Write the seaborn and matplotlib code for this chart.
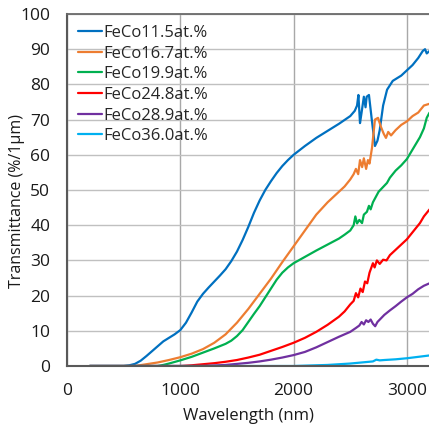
import matplotlib
matplotlib.use("Agg")
import matplotlib.pyplot as plt
import seaborn as sns
import pandas as pd

# ---------------- data ----------------
labels = ["FeCo11.5at.%", "FeCo16.7at.%", "FeCo19.9at.%",
          "FeCo24.8at.%", "FeCo28.9at.%", "FeCo36.0at.%"]
colors = ["#0070C0", "#ED7D31", "#00B050", "#FF0000", "#7030A0", "#00B0F0"]

wl_115 = [200, 500, 550, 600, 650, 700, 750, 800, 850, 900, 950, 1000, 1050, 1100,
          1150, 1200, 1250, 1300, 1350, 1400, 1450, 1500, 1550, 1600, 1650, 1700,
          1750, 1800, 1850, 1900, 1950, 2000, 2100, 2200, 2300, 2400, 2500, 2540,
          2560, 2572, 2586, 2600, 2620, 2635, 2645, 2665, 2690, 2718, 2740, 2760,
          2790, 2825, 2875, 2950, 3000, 3050, 3100, 3140, 3160, 3175, 3200]
t_115 = [0, 0, 0.2, 0.6, 1.5, 2.8, 4.2, 5.6, 7.0, 8.0, 9.0, 10.2, 12.3, 15.2,
         18.3, 20.5, 22.3, 24.0, 25.7, 27.5, 29.8, 32.5, 35.8, 39.5, 43.5, 47.0,
         50.0, 52.5, 54.8, 56.8, 58.5, 60.0, 62.5, 64.8, 66.8, 68.8, 71.0, 72.5,
         74.0, 77.0, 69.0, 72.0, 76.5, 73.5, 76.5, 77.0, 70.0, 62.5, 64.0, 67.0,
         74.0, 78.5, 81.0, 82.5, 84.0, 85.5, 87.5, 89.5, 90.0, 88.8, 89.5]

wl_167 = [200, 600, 700, 800, 900, 1000, 1100, 1200, 1300, 1400, 1500, 1600, 1700,
          1800, 1900, 2000, 2100, 2200, 2300, 2400, 2450, 2500, 2530, 2550, 2570,
          2586, 2605, 2620, 2640, 2656, 2670, 2692, 2718, 2745, 2770, 2795, 2815,
          2835, 2860, 2900, 2950, 3000, 3050, 3100, 3150, 3200]
t_167 = [0, 0, 0.5, 1.0, 1.7, 2.5, 3.5, 4.8, 6.6, 9.0, 12.3, 16.2, 20.5,
         24.8, 29.5, 34.0, 38.5, 43.0, 46.5, 49.5, 51.0, 53.0, 54.5, 56.0, 54.5,
         58.5, 56.5, 59.0, 56.0, 58.5, 57.5, 62.0, 70.0, 70.5, 68.0, 66.0, 64.8,
         66.5, 65.5, 67.0, 68.5, 69.5, 71.0, 72.0, 74.0, 74.5]

wl_199 = [200, 800, 850, 900, 1000, 1100, 1200, 1300, 1400, 1450, 1500, 1550, 1600,
          1650, 1700, 1750, 1800, 1850, 1900, 1950, 2000, 2100, 2200, 2300, 2400,
          2450, 2500, 2530, 2545, 2560, 2580, 2604, 2620, 2647, 2665, 2680, 2700,
          2750, 2824, 2850, 2900, 2950, 3000, 3050, 3115, 3150, 3175, 3200]
t_199 = [0, 0, 0.3, 0.7, 1.6, 2.6, 3.8, 5.0, 6.3, 7.2, 8.5, 10.2, 12.5,
         14.8, 17.0, 19.5, 22.0, 24.5, 26.5, 28.0, 29.2, 31.0, 32.8, 34.5, 36.2,
         37.3, 38.5, 40.0, 42.5, 40.5, 41.5, 40.6, 43.0, 43.8, 45.5, 44.5, 46.5,
         49.5, 52.0, 53.5, 55.5, 57.0, 58.8, 61.5, 65.0, 67.5, 70.5, 72.0]

wl_248 = [200, 1000, 1100, 1200, 1300, 1400, 1500, 1600, 1700, 1800, 1900, 2000,
          2100, 2200, 2300, 2400, 2450, 2500, 2530, 2550, 2570, 2590, 2610, 2630,
          2650, 2670, 2700, 2715, 2735, 2760, 2790, 2820, 2850, 2900, 2950, 3000,
          3050, 3115, 3150, 3200]
t_248 = [0, 0, 0.2, 0.5, 0.8, 1.2, 1.7, 2.4, 3.2, 4.3, 5.4, 6.6,
         8.0, 9.7, 11.7, 14.0, 15.5, 17.5, 18.5, 20.7, 19.5, 22.0, 21.0, 24.0,
         23.5, 26.5, 29.2, 28.0, 30.0, 29.0, 30.2, 30.0, 31.5, 33.0, 34.5, 36.0,
         38.0, 40.6, 42.5, 44.5]

wl_289 = [200, 1200, 1400, 1500, 1600, 1700, 1800, 1900, 2000, 2100, 2200, 2300,
          2400, 2500, 2550, 2580, 2600, 2620, 2640, 2660, 2680, 2700, 2720, 2740,
          2770, 2800, 2850, 2900, 2950, 3000, 3050, 3100, 3150, 3200]
t_289 = [0, 0, 0.3, 0.6, 0.9, 1.3, 1.8, 2.4, 3.1, 4.0, 5.3, 6.8,
         8.3, 9.7, 10.8, 11.5, 12.5, 11.8, 13.0, 12.5, 13.2, 12.0, 11.3, 12.5,
         13.5, 14.5, 15.8, 17.0, 18.3, 19.5, 20.5, 21.8, 22.8, 23.5]

wl_360 = [200, 2000, 2100, 2300, 2500, 2600, 2700, 2730, 2760, 2800, 2900, 3000,
          3100, 3200]
t_360 = [0, 0, 0.1, 0.3, 0.7, 1.0, 1.3, 1.8, 1.6, 1.7, 1.9, 2.2, 2.6, 3.0]

x_ticks = [0, 1000, 2000, 3000]
y_ticks = [0, 10, 20, 30, 40, 50, 60, 70, 80, 90, 100]

series = [(wl_115, t_115), (wl_167, t_167), (wl_199, t_199),
          (wl_248, t_248), (wl_289, t_289), (wl_360, t_360)]

frames = []
for lab, (w, t) in zip(labels, series):
    frames.append(pd.DataFrame({"Wavelength": w, "T": t, "Sample": lab}))
df = pd.concat(frames, ignore_index=True)

# ---------------- styling ----------------
sns.set_theme(style="white")
plt.rcParams["font.family"] = ["Open Sans", "DejaVu Sans"]

fig = plt.figure(figsize=(4.29, 4.29), dpi=100)
ax = fig.add_axes([67 / 429, 63 / 429, (429 - 67) / 429, (366 - 14) / 429])

sns.lineplot(data=df, x="Wavelength", y="T", hue="Sample", hue_order=labels,
             palette=colors, linewidth=1.6, ax=ax, sort=False, estimator=None,
             legend=True)

ax.set_xlim(0, 3195)
ax.set_ylim(0, 100)
ax.set_xticks(x_ticks)
ax.set_yticks(y_ticks)
ax.tick_params(axis="both", length=0, pad=12, labelsize=12.5, colors="#1a1a1a")

ax.grid(True, axis="y", color="#C0C0C0", linewidth=1.0)
ax.grid(True, axis="x", color="#A8A8A8", linewidth=1.0)
ax.set_axisbelow(True)

for side in ["left", "bottom"]:
    ax.spines[side].set_color("#595959")
    ax.spines[side].set_linewidth(1.5)
ax.spines["top"].set_color("#6a6a6a")
ax.spines["top"].set_linewidth(1.3)
ax.spines["right"].set_visible(False)

ax.set_xlabel("Wavelength (nm)", fontsize=12, color="#1a1a1a", labelpad=7)
ax.set_ylabel("Transmittance (%/1μm)", fontsize=11.5, color="#1a1a1a")
ax.yaxis.set_label_coords(-0.115, 0.47)

leg = ax.legend(loc="upper left", frameon=False, fontsize=12,
                handlelength=1.45, handletextpad=0.1, labelspacing=0.28,
                borderaxespad=0.25, bbox_to_anchor=(0.0, 1.0))
for line in leg.get_lines():
    line.set_linewidth(1.6)

fig.savefig("out.png", dpi=100)
